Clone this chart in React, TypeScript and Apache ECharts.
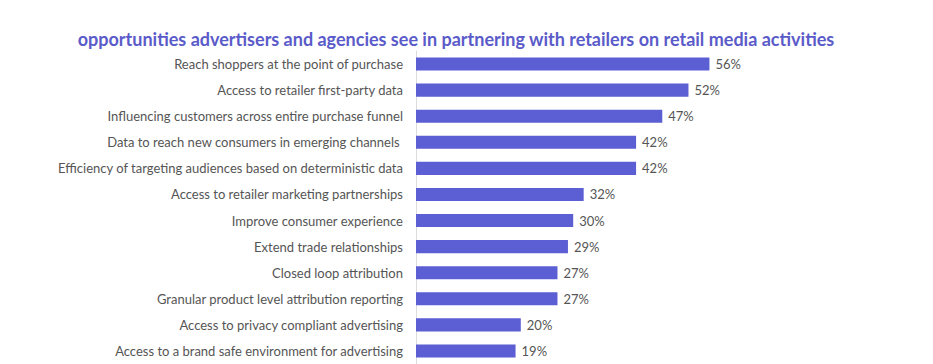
import React, { useEffect, useRef } from "react";
import * as echarts from "echarts";

const titleText =
  "opportunities advertisers and agencies see in partnering with retailers on retail media activities";

const categories = [
  "Reach shoppers at the point of purchase",
  "Access to retailer first-party data",
  "Influencing customers across entire purchase funnel",
  "Data to reach new consumers in emerging channels ",
  "Efficiency of targeting audiences based on deterministic data",
  "Access to retailer marketing partnerships",
  "Improve consumer experience",
  "Extend trade relationships",
  "Closed loop attribution",
  "Granular product level attribution reporting",
  "Access to privacy compliant advertising",
  "Access to a brand safe environment for advertising",
];

const values = [56, 52, 47, 42, 42, 32, 30, 29, 27, 27, 20, 19];

export default function App() {
  const ref = useRef<HTMLDivElement>(null);
  useEffect(() => {
    document.body.style.margin = "0";
    if (!ref.current) return;
    const chart = echarts.init(ref.current, undefined, { renderer: "svg" });
    chart.setOption({
      animation: false,
      backgroundColor: "#ffffff",
      title: {
        text: titleText,
        left: 451,
        textAlign: "center",
        top: 25,
        textStyle: {
          fontFamily: "Lato",
          fontWeight: "bold",
          fontSize: 18,
          color: "#5a5bc9",
        },
      },
      grid: { left: 416, top: 51, width: 419.2, height: 314.4 },
      xAxis: {
        type: "value",
        min: 0,
        max: 80,
        show: false,
      },
      yAxis: {
        type: "category",
        inverse: true,
        data: categories,
        axisLine: { show: true, lineStyle: { color: "#dcdcdc", width: 1 } },
        axisTick: { show: false },
        axisLabel: {
          margin: 13,
          fontFamily: "Lato",
          fontSize: 13,
          color: "#555555",
        },
      },
      series: [
        {
          type: "bar",
          data: values,
          barCategoryGap: "50%",
          itemStyle: { color: "#5c5fd4" },
          label: {
            show: true,
            position: "right",
            distance: 6,
            formatter: "{c}%",
            fontFamily: "Lato",
            fontSize: 13,
            color: "#555555",
          },
        },
      ],
    });
    return () => chart.dispose();
  }, []);
  return <div ref={ref} style={{ width: 933, height: 364 }} />;
}
